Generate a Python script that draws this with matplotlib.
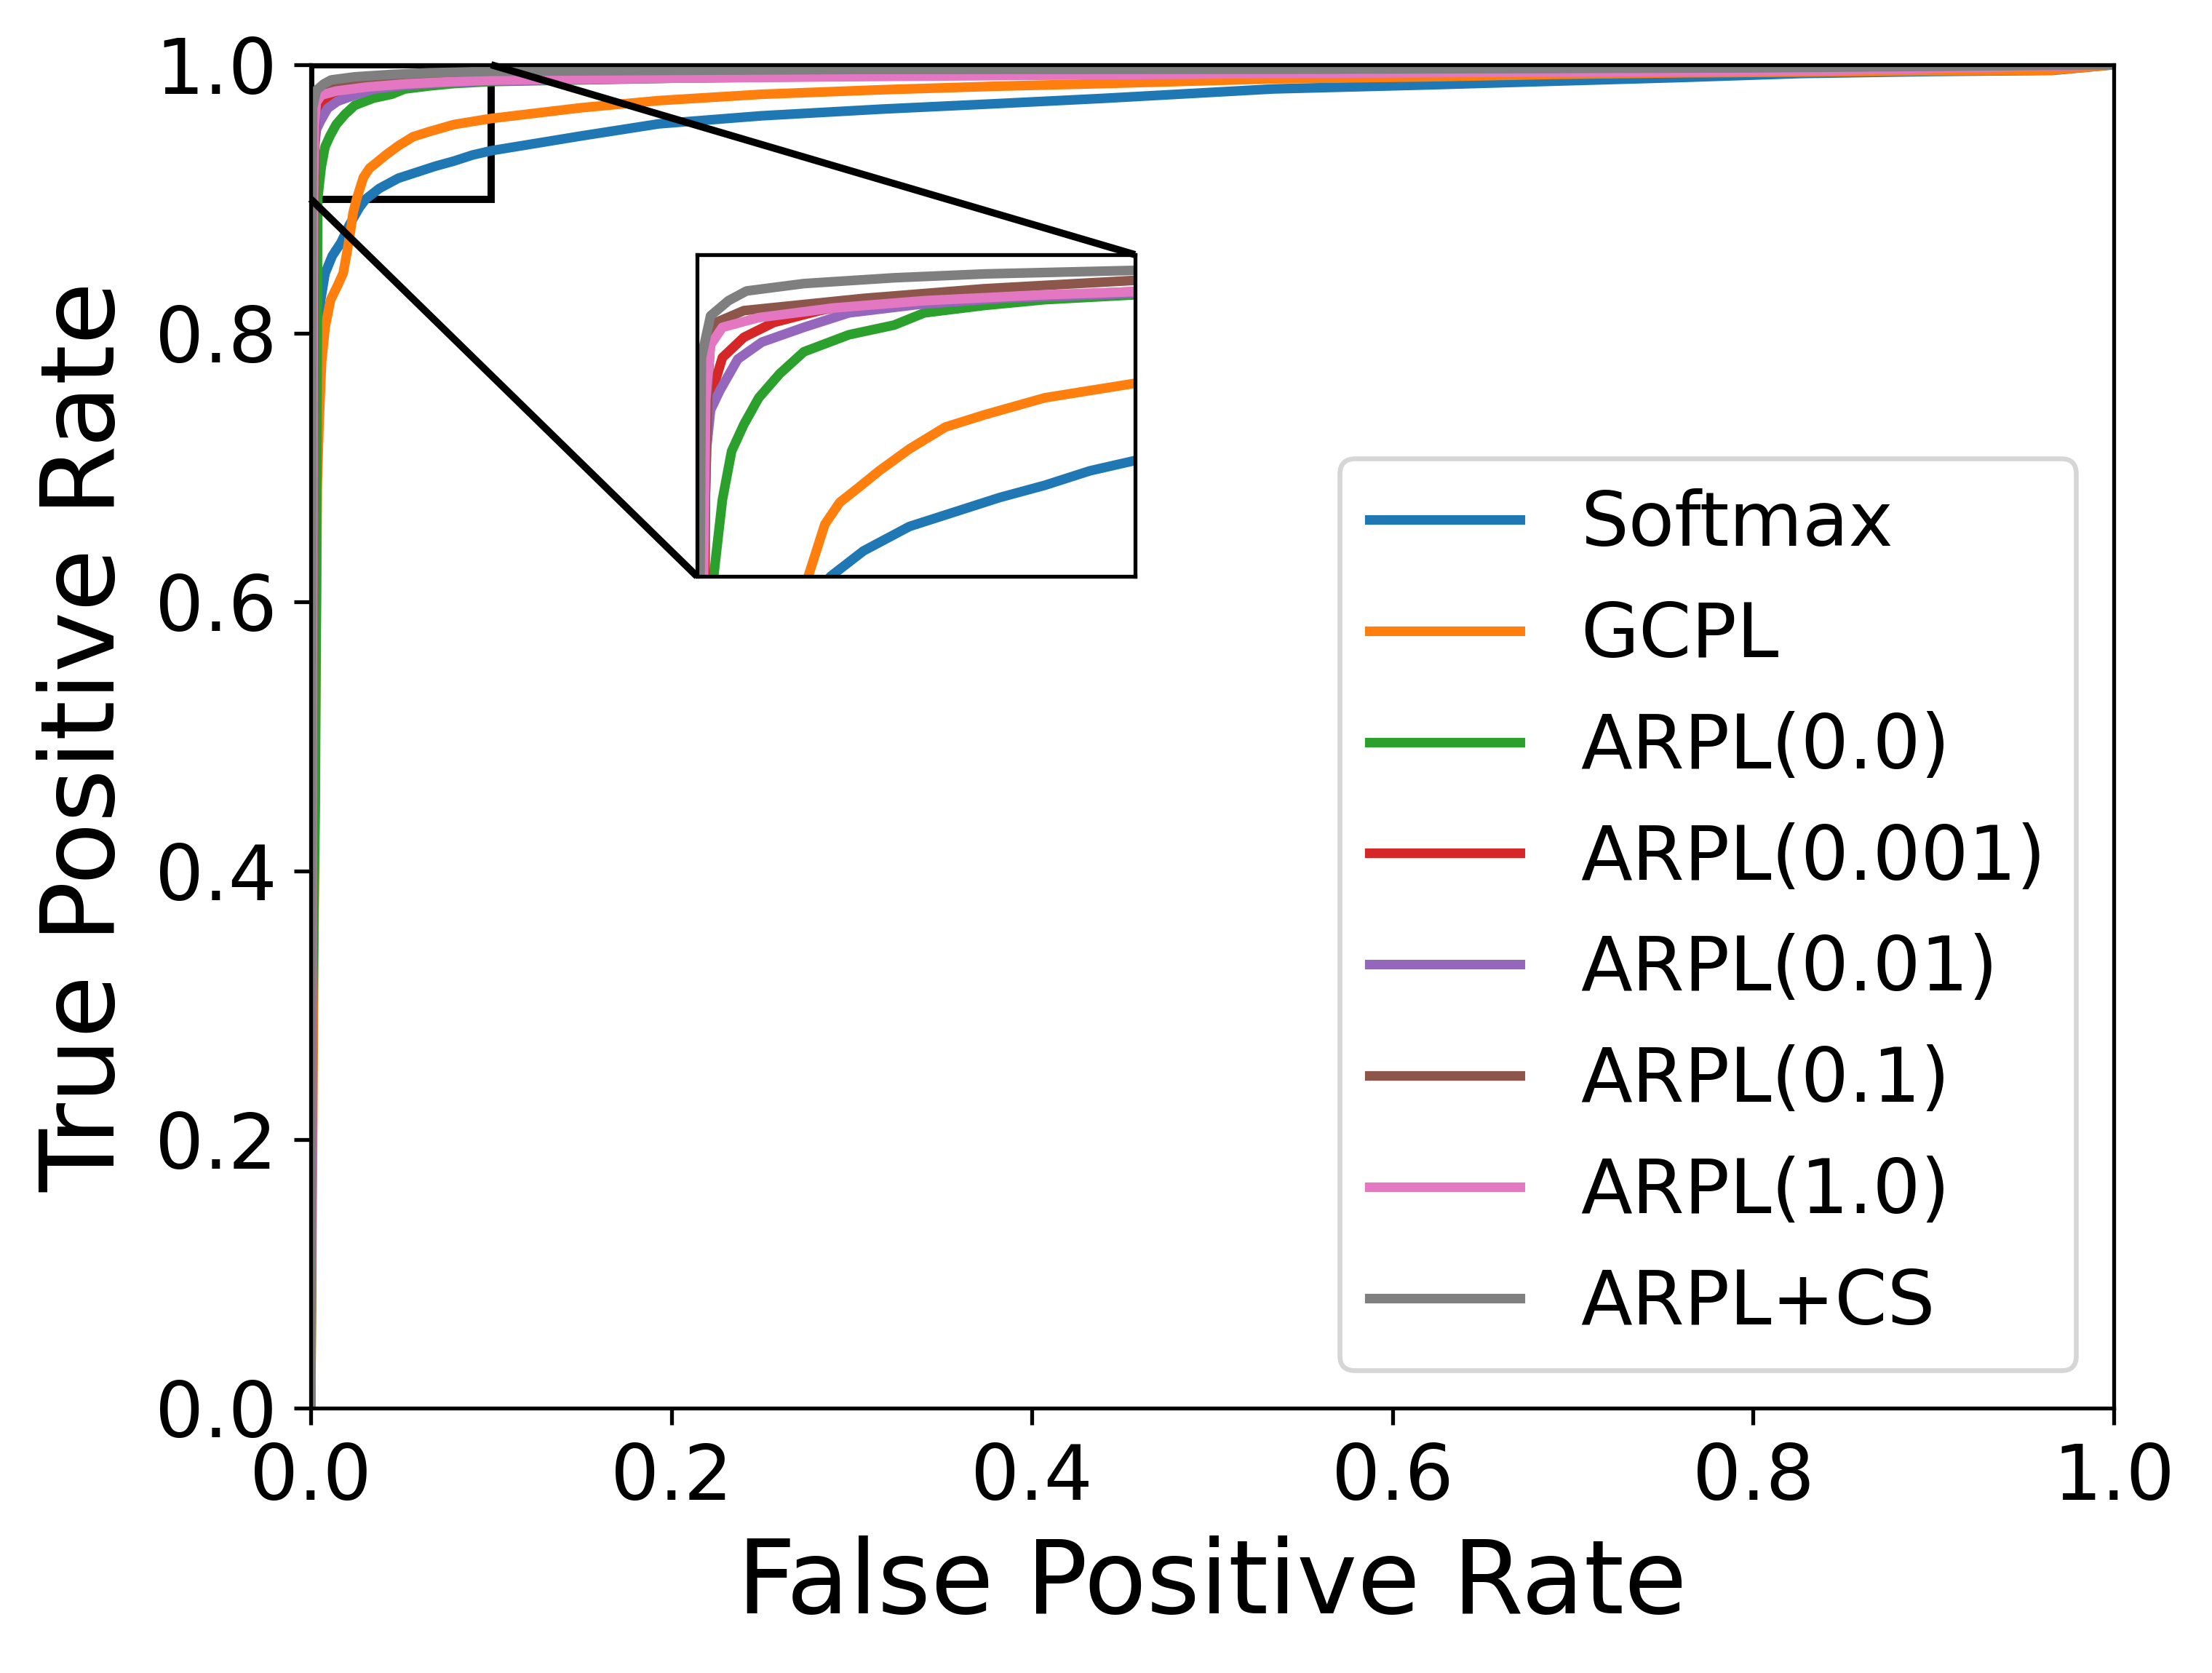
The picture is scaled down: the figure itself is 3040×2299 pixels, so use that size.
import matplotlib
matplotlib.use("Agg")
import matplotlib.pyplot as plt
from mpl_toolkits.axes_grid1.inset_locator import mark_inset

# ROC curves (fpr, tpr pairs)
labels = ["Softmax", "GCPL", "ARPL(0.0)", "ARPL(0.001)", "ARPL(0.01)",
          "ARPL(0.1)", "ARPL(1.0)", "ARPL+CS"]

softmax_fpr = [0, 0.0005, 0.001, 0.0015, 0.002, 0.003, 0.004, 0.0055, 0.0079, 0.0119,
               0.0167, 0.0214, 0.027, 0.0305, 0.038, 0.0485, 0.0588, 0.0691, 0.0794,
               0.0897, 0.1, 0.15, 0.193, 0.25, 0.317, 0.38, 0.44, 0.534, 0.62, 0.688,
               0.76, 0.827, 0.9, 0.966, 1.0]
softmax_tpr = [0, 0.2, 0.45, 0.62, 0.72, 0.785, 0.80, 0.825, 0.8446, 0.8577,
               0.8675, 0.8807, 0.8938, 0.9, 0.9079, 0.9155, 0.92, 0.9245, 0.9283,
               0.9328, 0.936, 0.947, 0.956, 0.962, 0.967, 0.971, 0.975, 0.982, 0.985, 0.9877,
               0.9905, 0.9935, 0.995, 0.9958, 1.0]

gcpl_fpr = [0, 0.0015, 0.0025, 0.0032, 0.0036, 0.0046, 0.006, 0.008, 0.011, 0.015,
            0.018, 0.020, 0.022, 0.0235, 0.0254, 0.0292, 0.0326, 0.0368, 0.0416, 0.0485,
            0.0567, 0.0656, 0.0794, 0.1, 0.15, 0.193, 0.25, 0.317, 0.38, 0.44, 0.534,
            0.62, 0.688, 0.76, 0.827, 0.9, 0.966, 1.0]
gcpl_tpr = [0, 0.3, 0.5, 0.6, 0.687, 0.733, 0.779, 0.805, 0.825, 0.836,
            0.845, 0.86, 0.876, 0.89, 0.9, 0.9162, 0.923, 0.9275, 0.9328, 0.9396,
            0.9464, 0.9502, 0.9555, 0.960, 0.968, 0.9733, 0.978, 0.9814, 0.984, 0.986, 0.9895,
            0.991, 0.9928, 0.994, 0.9946, 0.9955, 0.996, 1.0]

arpl00_fpr = [0, 0.001, 0.0025, 0.0032, 0.0036, 0.0038, 0.0058, 0.0079, 0.0107, 0.0141,
              0.0189, 0.0244, 0.0347, 0.045, 0.0519, 0.0656, 0.0794, 0.1, 0.2, 0.4,
              0.6, 0.8, 1.0]
arpl00_tpr = [0, 0.3, 0.45, 0.65, 0.8, 0.9, 0.9238, 0.9389, 0.9472, 0.9555,
              0.963, 0.9698, 0.9751, 0.9781, 0.9819, 0.9842, 0.986, 0.9875, 0.99, 0.993,
              0.995, 0.997, 1.0]

arpl0001_fpr = [0, 0.0008, 0.0015, 0.002, 0.0038, 0.0058, 0.0107, 0.0175, 0.028, 0.0326,
                0.05, 0.08, 0.1, 0.3, 0.6, 1.0]
arpl0001_tpr = [0, 0.4, 0.8, 0.953, 0.959, 0.968, 0.9743, 0.9789, 0.9826, 0.9838,
                0.9855, 0.9873, 0.9885, 0.9925, 0.995, 1.0]

arpl001_fpr = [0, 0.0008, 0.0014, 0.0022, 0.0031, 0.0052, 0.0093, 0.0148, 0.0244, 0.0347,
               0.0505, 0.07, 0.1, 0.3, 0.6, 1.0]
arpl001_tpr = [0, 0.3, 0.9, 0.94, 0.9517, 0.9577, 0.9675, 0.9728, 0.9774, 0.9819,
               0.9845, 0.9865, 0.988, 0.992, 0.995, 1.0]

arpl01_fpr = [0, 0.0008, 0.0015, 0.0025, 0.003, 0.0045, 0.0107, 0.038, 0.0656, 0.1,
              0.3, 0.6, 1.0]
arpl01_tpr = [0, 0.5, 0.9, 0.96, 0.9715, 0.979, 0.9826, 0.9864, 0.9894, 0.992,
              0.994, 0.996, 1.0]

arpl10_fpr = [0, 0.0008, 0.0015, 0.002, 0.0031, 0.0058, 0.014, 0.031, 0.052, 0.079,
              0.1, 0.2, 0.317, 0.554, 0.827, 1.0]
arpl10_tpr = [0, 0.5, 0.9, 0.955, 0.972, 0.9774, 0.9804, 0.9834, 0.9857, 0.9875,
              0.9885, 0.99, 0.9913, 0.9937, 0.9955, 1.0]

arplcs_fpr = [0, 0.0004, 0.0007, 0.001, 0.0031, 0.0072, 0.0113, 0.0244, 0.045, 0.0656,
              0.1, 0.3, 0.554, 0.8, 1.0]
arplcs_tpr = [0, 0.5, 0.9, 0.968, 0.981, 0.9857, 0.9887, 0.991, 0.9928, 0.994,
              0.9951, 0.9965, 0.9967, 0.9977, 1.0]

curves = [(softmax_fpr, softmax_tpr), (gcpl_fpr, gcpl_tpr), (arpl00_fpr, arpl00_tpr),
          (arpl0001_fpr, arpl0001_tpr), (arpl001_fpr, arpl001_tpr), (arpl01_fpr, arpl01_tpr),
          (arpl10_fpr, arpl10_tpr), (arplcs_fpr, arplcs_tpr)]

fig = plt.figure(figsize=(6.4, 4.84), dpi=475)
ax = fig.add_axes([0.1405, 0.1583, 0.8151, 0.803])

for (fpr, tpr), name in zip(curves, labels):
    ax.plot(fpr, tpr, lw=2, label=name)

ax.set_xlim(0, 1)
ax.set_ylim(0, 1)
ax.tick_params(labelsize=16)
ax.set_xlabel("False Positive Rate", fontsize=21.3)
ax.set_ylabel("True Positive Rate", fontsize=21.3)
ax.legend(loc="lower right", fontsize=15.7)

# zoomed inset of the top left corner
axins = fig.add_axes([0.3151, 0.6555, 0.198, 0.1923])
for fpr, tpr in curves:
    axins.plot(fpr, tpr, lw=2)
axins.set_xlim(0, 0.1)
axins.set_ylim(0.9, 1.0)
axins.set_xticks([])
axins.set_yticks([])
mark_inset(ax, axins, loc1=1, loc2=3, fc="none", ec="0", lw=1.5)

fig.savefig("out.png", dpi=475)
